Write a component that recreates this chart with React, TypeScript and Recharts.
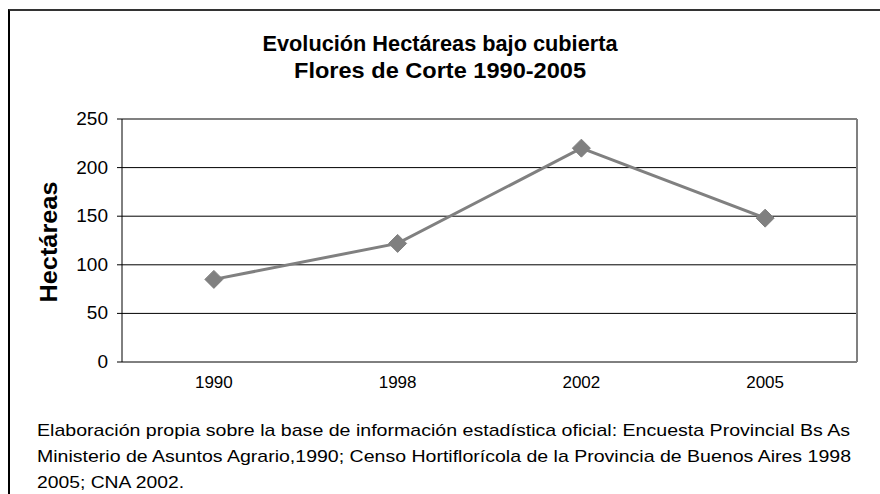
import React from "react";
import { LineChart, Line, XAxis, YAxis, CartesianGrid, ReferenceLine } from "recharts";

const categories = ["1990", "1998", "2002", "2005"];
const hectareas = [85, 122, 220, 148];
const yTicks = [0, 50, 100, 150, 200, 250];
const titleLines = ["Evolución Hectáreas bajo cubierta", "Flores de Corte 1990-2005"];
const yLabel = "Hectáreas";
const footnoteLines = [
  "Elaboración propia sobre la base de información estadística oficial: Encuesta  Provincial Bs As",
  "Ministerio de Asuntos Agrario,1990; Censo Hortiflorícola de la Provincia de Buenos Aires 1998",
  "2005; CNA 2002.",
];

const data = categories.map((c, i) => ({ x: i + 0.5, label: c, value: hectareas[i] }));
const boundaryTicks = categories.map((_, i) => i).concat([categories.length]);
const centerTicks = categories.map((_, i) => i + 0.5);

const FONT = "'Liberation Sans', Arial, sans-serif";

const Diamond = (props: any) => {
  const { cx, cy } = props;
  if (cx == null || cy == null) return null;
  const r = 9;
  return (
    <polygon
      points={`${cx},${cy - r} ${cx + r},${cy} ${cx},${cy + r} ${cx - r},${cy}`}
      fill="#808080"
      stroke="#808080"
    />
  );
};

const YTick = (props: any) => {
  const { x, y, payload } = props;
  return (
    <text x={x} y={y} dy={6} textAnchor="end" fontFamily={FONT} fontSize={19} fill="#000">
      {payload.value}
    </text>
  );
};

const XTick = (props: any) => {
  const { x, y, payload } = props;
  return (
    <text x={x} y={y} dy={14} textAnchor="middle" fontFamily={FONT} fontSize={17} fill="#000">
      {categories[Math.floor(payload.value)]}
    </text>
  );
};

const titleLens = [355, 292];
const footLens = [813, 814, 147];

export default function App() {
  return (
    <div style={{ position: "fixed", left: 0, top: 0, width: 880, height: 494, overflow: "hidden", background: "#fff" }}>
      <div
        style={{
          position: "absolute",
          left: 8,
          top: 9,
          width: 900,
          height: 520,
          borderTop: "2px solid #333",
          borderLeft: "2px solid #000",
        }}
      />
      <div style={{ position: "absolute", left: 0, top: 0 }}>
        <LineChart
          width={880}
          height={494}
          data={data}
          margin={{ top: 119, right: 23, left: 62, bottom: 102 }}
        >
          <CartesianGrid vertical={false} stroke="#000" strokeWidth={1} horizontalValues={yTicks} />
          <XAxis
            type="number"
            dataKey="x"
            domain={[0, categories.length]}
            ticks={boundaryTicks}
            tick={false}
            tickSize={6}
            height={0}
            axisLine={{ stroke: "#000", strokeWidth: 1 }}
            tickLine={{ stroke: "#000", strokeWidth: 1 }}
          />
          <XAxis
            xAxisId="labels"
            type="number"
            dataKey="x"
            domain={[0, categories.length]}
            ticks={centerTicks}
            axisLine={false}
            tickLine={false}
            tickMargin={6}
            height={30}
            tick={<XTick />}
          />
          <YAxis
            domain={[0, 250]}
            ticks={yTicks}
            width={60}
            tickSize={5}
            tickMargin={9}
            axisLine={{ stroke: "#000", strokeWidth: 1 }}
            tickLine={{ stroke: "#000", strokeWidth: 1 }}
            tick={<YTick />}
          />
          <ReferenceLine y={250} stroke="#808080" strokeWidth={2} />
          <ReferenceLine x={categories.length} stroke="#808080" strokeWidth={2} />
          <Line
            type="linear"
            dataKey="value"
            stroke="#808080"
            strokeWidth={3}
            dot={<Diamond />}
            activeDot={false}
            isAnimationActive={false}
          />
        </LineChart>
      </div>
      <svg width={880} height={494} style={{ position: "absolute", left: 0, top: 0, pointerEvents: "none" }}>
        {titleLines.map((t, i) => (
          <text
            key={t}
            x={440}
            y={51 + i * 27}
            textAnchor="middle"
            fontFamily={FONT}
            fontWeight="bold"
            fontSize={22}
            fill="#000"
            textLength={titleLens[i]}
            lengthAdjust="spacingAndGlyphs"
          >
            {t}
          </text>
        ))}
        <text
          x={0}
          y={0}
          transform="translate(57,242) rotate(-90)"
          textAnchor="middle"
          fontFamily={FONT}
          fontWeight="bold"
          fontSize={24}
          fill="#000"
          textLength={121}
          lengthAdjust="spacingAndGlyphs"
        >
          {yLabel}
        </text>
        {footnoteLines.map((t, i) => (
          <text
            key={i}
            x={37}
            y={436 + i * 26}
            fontFamily={FONT}
            fontSize={17}
            fill="#000"
            textLength={footLens[i]}
            lengthAdjust="spacingAndGlyphs"
          >
            {t}
          </text>
        ))}
      </svg>
    </div>
  );
}
